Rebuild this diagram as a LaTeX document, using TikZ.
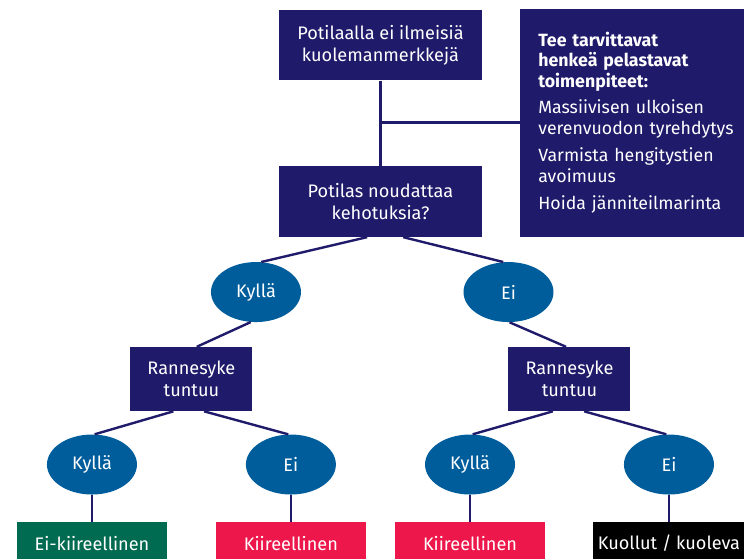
\documentclass[tikz,border=0pt]{standalone}
\usepackage{fontspec}
\setmainfont{Fira Sans}
\usetikzlibrary{positioning, shapes}
\definecolor{navy}{HTML}{1F1A6A}
\definecolor{cblue}{HTML}{005D9C}
\definecolor{cgreen}{HTML}{006B50}
\definecolor{cred}{HTML}{ED174B}

\begin{document}
\begin{tikzpicture}[on grid,
    font=\fontsize{13.6}{16.5}\selectfont,
    box/.style={rectangle, fill=navy, text=white, align=center, minimum width=152pt, minimum height=53pt},
    smallbox/.style={rectangle, fill=navy, text=white, align=center, minimum width=91.5pt, minimum height=48pt},
    choice/.style={ellipse, fill=cblue, text=white, minimum width=67.5pt, minimum height=45pt, inner sep=0pt},
    result/.style={rectangle, text=white, minimum width=112.5pt, minimum height=31.5pt},
    link/.style={draw=navy, line width=1.8pt}]
    \path[use as bounding box, clip] (-285.375pt,33.75pt) rectangle (272.625pt,-385.5pt);

    \node[box] (q1) {Potilaalla ei ilmeisiä\\kuolemanmerkkejä};
    \node[box] (q2) [below=117.4pt of q1] {Potilas noudattaa\\kehotuksia?};

    \node[rectangle, fill=navy, text=white, anchor=north west, text width=170pt, align=left,
          inner xsep=13.5pt, minimum height=171pt, font=\fontsize{13.3}{15.6}\selectfont] (tp)
          at ([xshift=28.5pt, yshift=0.75pt]q1.north east)
          {\textbf{Tee tarvittavat\\henkeä pelastavat\\toimenpiteet:}\\[3.5pt]
           Massiivisen ulkoisen\\verenvuodon tyrehdytys\\[5pt]
           Varmista hengitystien\\avoimuus\\[5pt]
           Hoida jänniteilmarinta};

    \node[choice] (k1) [below left=67.9pt and 93.4pt of q2] {Kyllä};
    \node[choice] (e1) [below right=67.9pt and 96pt of q2] {Ei};

    \node[smallbox] (r1) [below left=65.25pt and 48.4pt of k1] {Rannesyke\\tuntuu};
    \node[smallbox] (r2) [below right=65.25pt and 45.75pt of e1] {Rannesyke\\tuntuu};

    \node[choice] (k11) [below left=64.1pt and 74.6pt of r1] {Kyllä};
    \node[choice] (e11) [below right=64.1pt and 74.6pt of r1] {Ei};
    \node[choice] (k21) [below left=64.1pt and 74.6pt of r2] {Kyllä};
    \node[choice] (e21) [below right=64.1pt and 74.6pt of r2] {Ei};

    \node[result, fill=cgreen] (o11) [below=58.9pt of k11] {Ei-kiireellinen};
    \node[result, fill=cred] (o12) [below=58.9pt of e11] {Kiireellinen};
    \node[result, fill=cred] (o21) [below=58.9pt of k21] {Kiireellinen};
    \node[result, fill=black] (o22) [below=58.9pt of e21] {Kuollut / kuoleva};

    \draw[link] (q1) -- (q2);
    \draw[link] (tp.west) -- (tp.west -| q1);
    \draw[link] ([xshift=-10pt]q2.south) -- (k1.80);
    \draw[link] ([xshift=17pt]q2.south) -- (e1.100);
    \draw[link] (k1.-100) -- ([xshift=4pt]r1.north);
    \draw[link] (e1.-88) -- ([xshift=-2.6pt]r2.north);
    \draw[link] ([xshift=-13.5pt]r1.south) -- (k11.85);
    \draw[link] ([xshift=9.5pt]r1.south) -- (e11.95);
    \draw[link] ([xshift=-12.5pt]r2.south) -- (k21.85);
    \draw[link] ([xshift=11pt]r2.south) -- (e21.95);
    \draw[link] (k11) -- (o11);
    \draw[link] (e11) -- (o12);
    \draw[link] (k21) -- (o21);
    \draw[link] (e21) -- (o22);
\end{tikzpicture}
\end{document}
